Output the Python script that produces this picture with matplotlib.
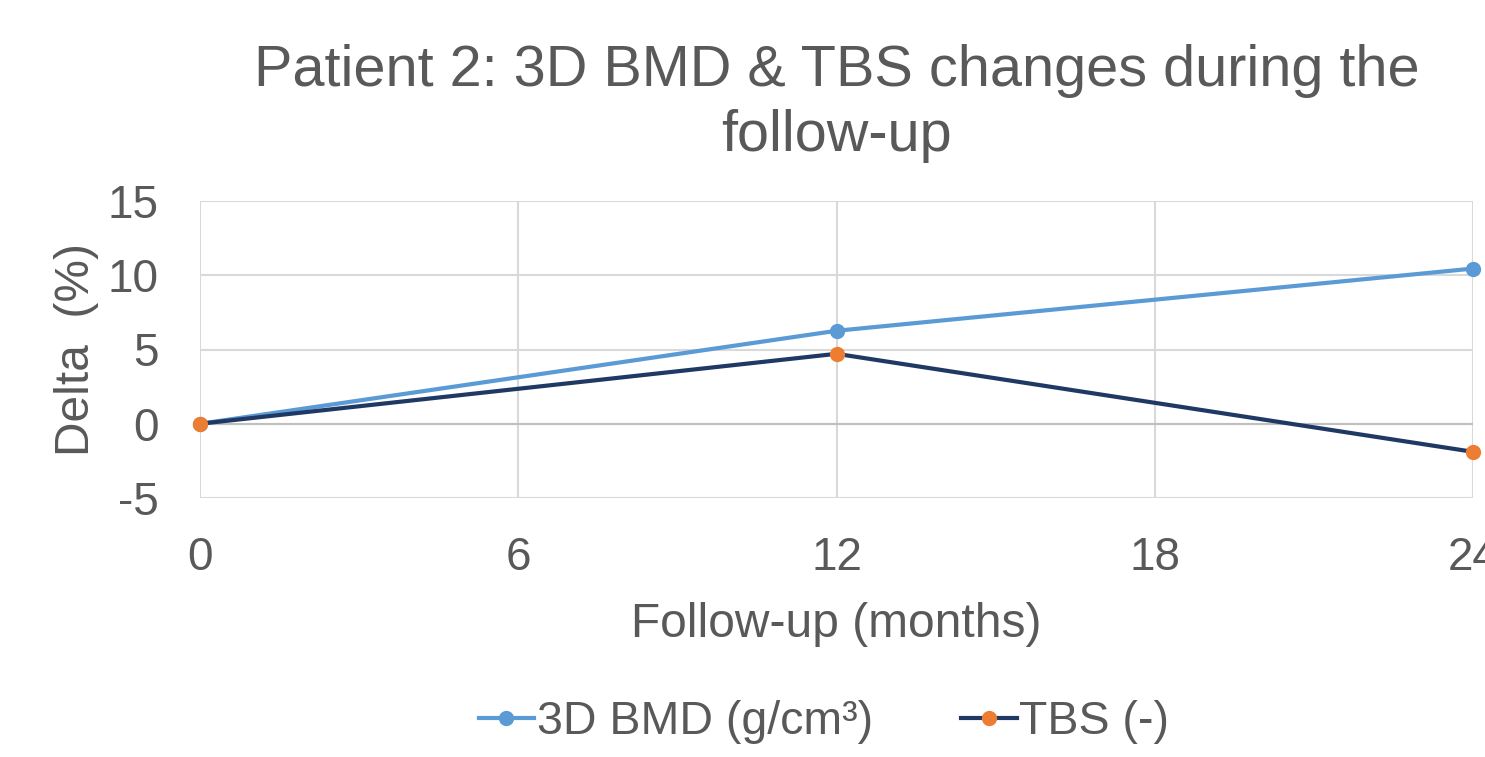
import matplotlib
matplotlib.use("Agg")
import matplotlib.pyplot as plt

# Follow-up data (delta % vs baseline)
months = [0, 12, 24]
bmd_delta = [0.0, 6.26, 10.45]
tbs_delta = [0.0, 4.71, -1.89]

x_ticks = [0, 6, 12, 18, 24]
y_ticks = [-5, 0, 5, 10, 15]

TEXT = "#595959"
GRID = "#d9d9d9"

plt.rcParams['font.family'] = ['Liberation Sans', 'DejaVu Sans']
plt.rcParams['axes.unicode_minus'] = False

fig = plt.figure(figsize=(14.85, 7.57), dpi=100)
ax = fig.add_axes([200 / 1485, 1 - 498 / 757, 1273 / 1485, 297 / 757])

ax.plot(months, bmd_delta, color="#5b9bd5", linewidth=3, marker="o",
        markersize=11, markeredgewidth=0, label="3D BMD (g/cm³)", zorder=4, clip_on=False)
ax.plot(months, tbs_delta, color="#1f3864", linewidth=3, marker="o",
        markersize=11, markerfacecolor="#ed7d31", markeredgewidth=0,
        label="TBS (-)", zorder=5, clip_on=False)

ax.set_xlim(0, 24)
ax.set_ylim(-5, 15)
ax.set_xticks(x_ticks)
ax.set_yticks(y_ticks)
ax.grid(True, color=GRID, linewidth=1.5)
ax.axhline(0, color="#bfbfbf", linewidth=1.5, zorder=2)
for s in ax.spines.values():
    s.set_visible(False)
ax.tick_params(length=0, labelsize=33, colors=TEXT)
ax.tick_params(axis='x', pad=27)
ax.tick_params(axis='y', pad=30)

ax.set_xlabel("Follow-up (months)", fontsize=34.5, color=TEXT, labelpad=16)
ax.set_ylabel("Delta  (%)", fontsize=34.5, color=TEXT, labelpad=6)
ax.set_title("Patient 2: 3D BMD & TBS changes during the\nfollow-up",
             fontsize=41.5, color=TEXT, pad=36, linespacing=1.25)

leg = fig.legend(loc="center", bbox_to_anchor=(824 / 1485, 1 - 722 / 757),
                 ncol=2, frameon=False, fontsize=33.5, handlelength=1.2,
                 handletextpad=0.05, columnspacing=1.9)
for t in leg.get_texts():
    t.set_color(TEXT)

fig.savefig("out.png", dpi=100)
